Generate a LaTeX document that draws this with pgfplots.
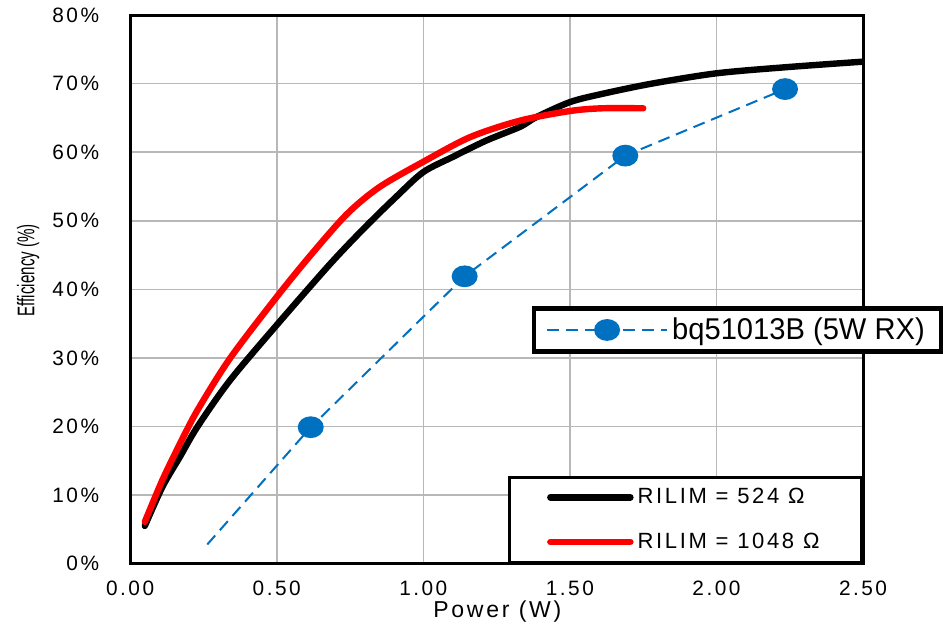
\documentclass[border=0pt]{standalone}
\usepackage{pgfplots}
\pgfplotsset{compat=1.18}
\usepackage{graphicx}
\usepackage{fontspec}
\setmainfont{Liberation Sans}
\newfontfamily\tickfont[LetterSpace=12]{Liberation Sans}
\definecolor{tiblue}{HTML}{0070C0}

\begin{document}
\begin{tikzpicture}
\begin{axis}[
    name=main,
    scale only axis,
    width=366pt, height=274pt,
    xmin=0, xmax=2.5, ymin=0, ymax=80,
    xtick={0,0.5,1,1.5,2,2.5},
    ytick={0,10,...,80},
    grid=major,
    major grid style={black!28, line width=0.8pt},
    axis line style={line width=1.5pt},
    major tick length=0pt,
    /pgf/number format/assume math mode=true,
    tick label style={font=\tickfont\fontsize{10.4}{12}\selectfont},
    xticklabel style={anchor=center, yshift=-12.5pt,
        /pgf/number format/.cd, fixed, fixed zerofill, precision=2},
    yticklabel style={anchor=east, xshift=-12pt},
    yticklabel={\pgfmathprintnumber{\tick}\%},
    xlabel={Power (W)},
    ylabel={\scalebox{0.63}[1]{Efficiency (\%)}},
    xlabel style={at={(axis description cs:0.501,-0.0876)}, anchor=center,
        font=\tickfont\fontsize{11.5}{13}\selectfont},
    ylabel style={at={(axis description cs:-0.1393,0.535)}, anchor=center,
        font=\fontsize{12}{14}\selectfont},
    legend style={at={(rel axis cs:1,0)}, anchor=south east,
        draw=black, line width=1.5pt, inner xsep=19pt, inner ysep=3.5pt,
        row sep=9.1pt, nodes={inner xsep=2pt},
        font=\tickfont\fontsize{11}{13}\selectfont},
    legend cell align=left,
    legend image code/.code={\draw[#1] (0pt,0pt) -- (40pt,0pt);},
]
\addplot[black, line width=3.2pt, line cap=round, smooth, tension=0.5] coordinates {
    (0.05,5.5) (0.11,11.2) (0.17,15.6) (0.23,20.0) (0.34,26.7) (0.50,34.8)
    (0.68,43.6) (0.80,49.0) (0.91,53.6) (1.00,57.1) (1.10,59.3) (1.215,61.7)
    (1.33,63.7) (1.385,65.1) (1.50,67.3) (1.61,68.5) (1.78,70.0) (2.00,71.5)
    (2.24,72.4) (2.50,73.2)
};
\addlegendentry{RILIM = 524 Ω}
\addplot[red, line width=3.2pt, line cap=round, smooth, tension=0.5] coordinates {
    (0.05,6.1) (0.11,12.2) (0.17,17.5) (0.23,22.4) (0.34,29.9) (0.50,38.9)
    (0.62,45.2) (0.74,51.0) (0.85,54.9) (1.00,58.6) (1.16,62.2) (1.33,64.6)
    (1.50,66.0) (1.61,66.4) (1.75,66.4)
};
\addlegendentry{RILIM = 1048 Ω}
\end{axis}

\begin{axis}[
    scale only axis,
    width=366pt, height=274pt,
    xmin=0, xmax=2.5, ymin=0, ymax=80,
    hide axis,
    legend style={at={(rel axis cs:0.548,0.469)}, anchor=north west,
        draw=black, line width=2.2pt, inner xsep=6pt, inner ysep=2.5pt,
        font=\fontsize{15}{17}\selectfont},
    legend image code/.code={\draw[#1, mark indices={2}]
        plot coordinates {(0pt,0pt) (30pt,0pt) (60pt,0pt)};},
]
\addplot[tiblue, line width=1pt, dash pattern=on 6pt off 3.5pt,
    mark=*, mark size=5.2pt, mark indices={2,3,4,5},
    mark options={solid, fill=tiblue, draw=tiblue, xscale=1.15, yscale=0.95}]
    coordinates {
    (0.263,2.8) (0.616,19.9) (1.141,41.9) (1.689,59.5) (2.234,69.2)
};
\addlegendentry{\scalebox{0.97}[1]{bq51013B (5W RX)}\hspace{13pt}}
\end{axis}
\path ([yshift=-34.5pt]main.south) ([yshift=7.5pt]main.north)
    ([xshift=-65pt]main.west);
\end{tikzpicture}
\end{document}
